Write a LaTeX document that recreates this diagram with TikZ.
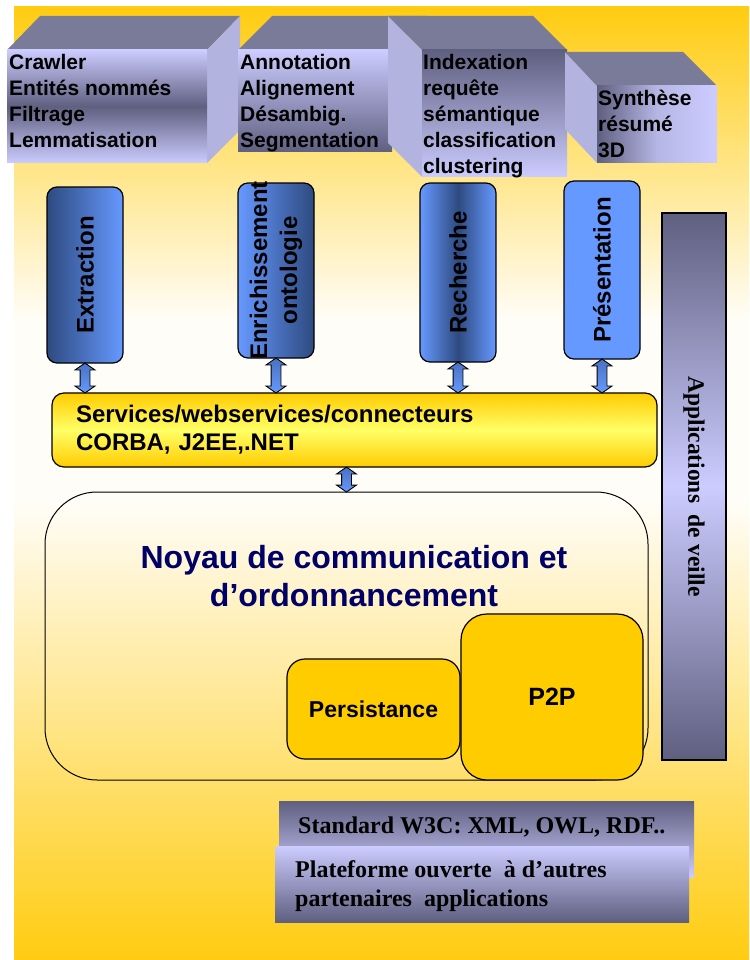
\documentclass[tikz,border=0pt]{standalone}
\usepackage{fontspec}
\setmainfont{Liberation Serif}
\setsansfont{Liberation Sans}
\usetikzlibrary{shapes.arrows}

\definecolor{bgyellow}{HTML}{FFCC11}
\definecolor{bgcream}{HTML}{FFFDF8}
\definecolor{lavender}{HTML}{CCCCFF}
\definecolor{slate}{HTML}{5F5F80}
\definecolor{cubetop}{HTML}{7A7A99}
\definecolor{cubeside}{HTML}{B3B3E0}
\definecolor{pblue}{HTML}{6699FF}
\definecolor{pdark}{HTML}{2E4A80}
\definecolor{gold}{HTML}{FFCC00}
\definecolor{lightgold}{HTML}{FFFF66}
\definecolor{navy}{HTML}{000066}

\def\rowsep{26}

\begin{document}
\begin{tikzpicture}[x=1pt,y=-1pt]
  \tikzstyle{cube text}=[font=\sffamily\bfseries\fontsize{21}{24}\selectfont, anchor=base west, inner sep=0pt]
  \tikzstyle{pillar}=[draw=black, line width=1.2pt, rounded corners=10pt, minimum width=76pt, inner sep=0pt]
  \tikzstyle{pillar text}=[font=\sffamily\bfseries\fontsize{24}{30}\selectfont, rotate=90, align=center, inner sep=0pt]
  \tikzstyle{link arrow}=[double arrow, draw=black, line width=0.9pt, inner sep=0pt, text height=9pt, text depth=0pt, double arrow head extend=5pt, double arrow tip angle=110, rotate=90, top color=pdark!50!pblue, bottom color=pblue]
  \tikzstyle{serv box}=[draw=black, line width=1.2pt, rounded corners=12pt, top color=gold, bottom color=gold, middle color=lightgold]
  \tikzstyle{core box}=[draw=black, line width=1pt, rounded corners=52pt]
  \tikzstyle{title text}=[font=\sffamily\bfseries\fontsize{32}{38}\selectfont, text=navy, anchor=base, inner sep=0pt]
  \tikzstyle{sub box}=[draw=black, line width=1.2pt, fill=gold, font=\sffamily\bfseries\fontsize{23}{26}\selectfont]
  \tikzstyle{veille box}=[draw=black, line width=1.5pt, top color=slate, bottom color=slate, middle color=lavender]
  \tikzstyle{std box}=[inner sep=0pt, minimum height=76pt]
  \tikzstyle{std text}=[font=\rmfamily\bfseries\fontsize{24}{29}\selectfont, anchor=base west, inner sep=0pt]

  \useasboundingbox (0,0) rectangle (749,960);
  \fill[white] (0,0) rectangle (749,960);

  % Background
  \shade[top color=bgyellow, bottom color=bgcream] (14,7) rectangle (749,320);
  \fill[bgcream] (14,319) rectangle (749,501);
  \shade[top color=bgcream, bottom color=bgyellow] (14,500) rectangle (749,960);

  % Draw the cubes
  \fill[cubetop] (7,50) -- (40,16) -- (240,16) -- (207,50) -- cycle;
  \fill[cubeside] (207,50) -- (240,16) -- (240,130) -- (207,163) -- cycle;
  \shade[top color=lavender, bottom color=lavender, middle color=slate] (7,50) rectangle (207,163);

  \fill[cubetop] (238,50) -- (272,16) -- (426,16) -- (392,50) -- cycle;
  \shade[top color=lavender, bottom color=slate] (238,50) rectangle (392,152);

  \fill[cubeside] (388,16) -- (422,50) -- (422,177) -- (388,143) -- cycle;
  \fill[cubetop] (388,16) -- (533,16) -- (567,50) -- (422,50) -- cycle;
  \shade[top color=slate, bottom color=lavender] (422,50) rectangle (567,177);

  \fill[cubeside] (565,52) -- (597,86) -- (597,163) -- (565,129) -- cycle;
  \fill[cubetop] (565,52) -- (683,52) -- (717,86) -- (597,86) -- cycle;
  \shade[left color=slate, right color=lavender, middle color=lavender!80!slate] (597,86) rectangle (717,163);

  % Cube texts
  \foreach \txt [count=\i] in {Crawler,Entités nommés,Filtrage,Lemmatisation}
    \node[cube text] (crawl-\i) at (9,44+\rowsep*\i) {\txt};
  \foreach \txt [count=\i] in {Annotation,Alignement,Désambig.,Segmentation}
    \node[cube text] (annot-\i) at (240,44+\rowsep*\i) {\txt};
  \foreach \txt [count=\i] in {Indexation,requête,sémantique,classification,clustering}
    \node[cube text] (index-\i) at (423,44+\rowsep*\i) {\txt};
  \foreach \txt [count=\i] in {Synthèse,résumé,3D}
    \node[cube text] (synth-\i) at (598,80+\rowsep*\i) {\txt};

  % Draw the pillars
  \node[pillar, minimum height=176pt, left color=pdark, right color=pblue] (ext) at (85,275) {};
  \node[pillar, minimum height=175pt, left color=pblue, right color=pdark] (enr) at (276,270.5) {};
  \node[pillar, minimum height=179pt, left color=pblue, right color=pblue, middle color=pdark] (rech) at (458,272.5) {};
  \node[pillar, minimum height=178pt, fill=pblue] (pres) at (602,270) {};

  \node[pillar text] (ext-t) at (ext.center) {Extraction};
  \node[pillar text] (enr-t) at (enr.center) {Enrichissement\\ontologie};
  \node[pillar text] (rech-t) at (rech.center) {Recherche};
  \node[pillar text] (pres-t) at (pres.center) {Présentation};

  % Services layer
  \node[serv box, inner xsep=24pt, text width=557pt, minimum height=74pt, align=left,
        font=\sffamily\bfseries\fontsize{24}{28}\selectfont] (serv) at (354.5,430)
        {Services/webservices/connecteurs\\CORBA, J2EE,.NET};

  % Connect pillars to services
  \foreach \p/\len in {ext/30,enr/35,rech/31,pres/34}
    \path (\p.south) -- (\p.south |- serv.north) node[midway, link arrow, minimum height=\len pt] {};

  % Core
  \node[core box, minimum width=603pt, minimum height=288pt] (noyau) at (346.5,636) {};
  \node[title text] (noyau-t1) at (354,568) {Noyau de communication et};
  \node[title text] (noyau-t2) at (354,606) {d’ordonnancement};
  \path (noyau.north |- serv.south) -- (noyau.north) node[midway, link arrow, minimum height=25pt] {};

  \node[sub box, minimum width=173pt, minimum height=100pt, rounded corners=18pt] (pers) at (373.5,709) {Persistance};
  \node[sub box, minimum width=182pt, minimum height=166pt, rounded corners=26pt, font=\sffamily\bfseries\fontsize{25}{28}\selectfont] (p2p) at (552,697) {P2P};

  % Side bar
  \node[veille box, minimum width=64pt, minimum height=547pt] (veille) at (694,486.5) {};
  \node[font=\rmfamily\bfseries\fontsize{23.5}{26}\selectfont, rotate=-90] (veille-t) at (veille.center) {Applications\ \ de veille};

  % Standards
  \node[std box, minimum width=415pt, top color=slate, bottom color=lavender] (std) at (486.5,839) {};
  \node[std text] (std-t) at (298,833) {Standard W3C: XML, OWL, RDF..};
  \node[std box, minimum width=414pt, top color=lavender, bottom color=slate] (plat) at (482,884) {};
  \node[std text] (plat-t1) at (295,877) {Plateforme ouverte\ \ à d’autres};
  \node[std text] (plat-t2) at (295,906) {partenaires\ \ applications};
\end{tikzpicture}
\end{document}
